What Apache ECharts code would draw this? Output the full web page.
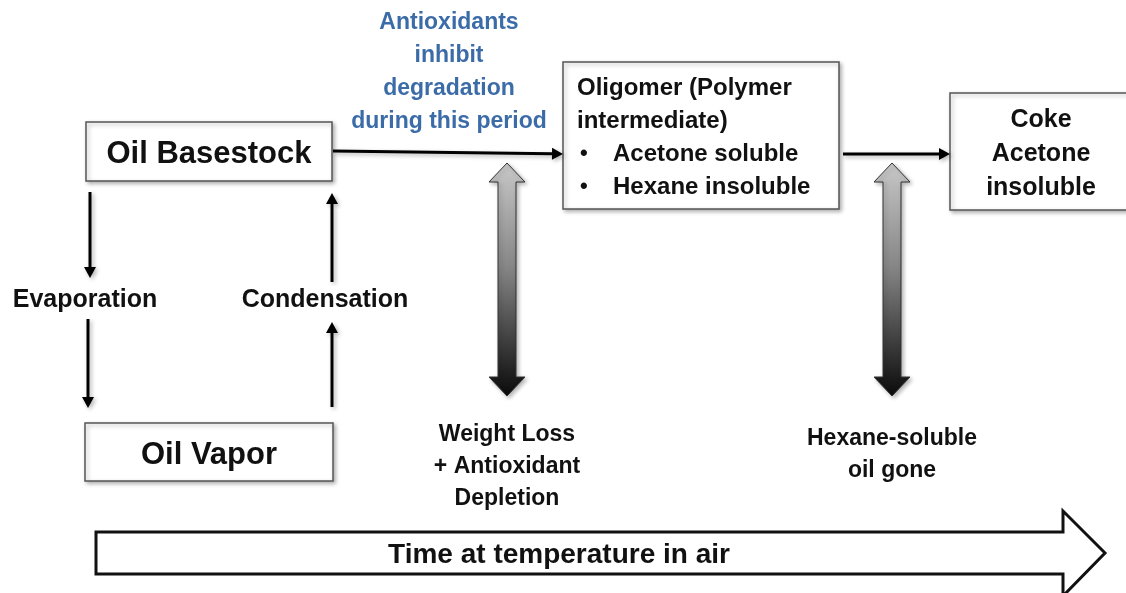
<!DOCTYPE html>
<html><head><meta charset="utf-8">
<script src="https://cdn.jsdelivr.net/npm/echarts@6/dist/echarts.min.js"></script>
<style>html,body{margin:0;padding:0;background:#fff}#c{width:1126px;height:593px}</style>
</head><body><div id="c"></div>
<script>
// ---- content (text) ----
const basestockLabel = ['Oil Basestock'];
const vaporLabel = ['Oil Vapor'];
const phaseLabels = ['Evaporation', 'Condensation'];
const inhibitLines = ['Antioxidants', 'inhibit', 'degradation', 'during this period'];
const oligomerLines = ['Oligomer (Polymer', 'intermediate)'];
const oligomerBullets = ['Acetone soluble', 'Hexane insoluble'];
const cokeLines = ['Coke', 'Acetone', 'insoluble'];
const weightLossLines = ['Weight Loss', '+ Antioxidant', 'Depletion'];
const hexaneGoneLines = ['Hexane-soluble', 'oil gone'];
const timeLabel = ['Time at temperature in air'];

const FONT = '"Liberation Sans", Arial, sans-serif';
const chart = echarts.init(document.getElementById('c'), null, {renderer: 'canvas'});
const g = [];
const shadow = {shadowBlur: 4, shadowOffsetX: 2, shadowOffsetY: 2, shadowColor: 'rgba(0,0,0,0.3)'};
const DY = 2;

function box(x, y, w, h) {
  g.push({type: 'rect', shape: {x, y, width: w, height: h},
    style: Object.assign({fill: '#fff', stroke: '#555', lineWidth: 1.5}, shadow)});
}
function text(s, x, y, size, opts) {
  g.push({type: 'text', x, y: y + DY, style: Object.assign({text: s, fill: '#111',
    font: 'bold ' + size + 'px ' + FONT, textAlign: 'center', textVerticalAlign: 'middle'}, opts || {})});
}
function arrow(x1, y1, x2, y2) {
  const dx = x2 - x1, dy = y2 - y1, L = Math.hypot(dx, dy), ux = dx / L, uy = dy / L;
  const hl = 11, hw = 6;
  const bx = x2 - ux * hl, by = y2 - uy * hl;
  g.push({type: 'line', shape: {x1, y1, x2: bx, y2: by},
    style: Object.assign({stroke: '#000', lineWidth: 3}, shadow)});
  g.push({type: 'polygon', shape: {points: [[x2, y2], [bx - uy * hw, by + ux * hw], [bx + uy * hw, by - ux * hw]]},
    style: Object.assign({fill: '#000'}, shadow)});
}
function dblArrow(cx, top, bot) {
  const sw = 9, hw = 18, hh = 19;
  g.push({type: 'polygon', shape: {points: [
    [cx, top], [cx + hw, top + hh], [cx + sw, top + hh], [cx + sw, bot - hh], [cx + hw, bot - hh],
    [cx, bot], [cx - hw, bot - hh], [cx - sw, bot - hh], [cx - sw, top + hh], [cx - hw, top + hh]]},
    style: Object.assign({
      fill: new echarts.graphic.LinearGradient(0, 0, 0, 1, [
        {offset: 0, color: '#c8c8c8'}, {offset: 0.45, color: '#858585'}, {offset: 1, color: '#0a0a0a'}]),
      stroke: '#333', lineWidth: 1}, shadow)});
}

// boxes
box(86, 122, 246, 59);
text(basestockLabel[0], 209, 152, 31);
box(85, 423, 248, 58);
text(vaporLabel[0], 209, 453, 31);
box(563, 62, 276, 147);
oligomerLines.forEach((s, i) => text(s, 577, 86 + i * 33, 24, {textAlign: 'left'}));
oligomerBullets.forEach((s, i) => {
  text('\u2022', 580, 152 + i * 33, 22, {textAlign: 'left'});
  text(s, 613, 152 + i * 33, 24, {textAlign: 'left'});
});
box(950, 93, 190, 117);
cokeLines.forEach((s, i) => text(s, 1041, 118 + i * 34, 25));

// arrows
arrow(333, 151, 563, 154);
arrow(843, 154, 950, 154);
arrow(90, 192, 90, 278);
arrow(88, 319, 88, 408);
arrow(332, 282, 332, 193);
arrow(332, 407, 332, 322);

// texts
text(phaseLabels[0], 85, 298, 25);
text(phaseLabels[1], 325, 298, 25);
inhibitLines.forEach((s, i) => text(s, 449, 21 + i * 33, 23, {fill: '#3c6ca8'}));
weightLossLines.forEach((s, i) => text(s, 507, 433 + i * 32, 23));
hexaneGoneLines.forEach((s, i) => text(s, 892, 437 + i * 32, 23));

// gradient double arrows
dblArrow(507, 163, 396);
dblArrow(892, 163, 396);

// time arrow
g.push({type: 'polygon', shape: {points: [[96, 532], [1063, 532], [1063, 511], [1105, 553], [1063, 596], [1063, 574], [96, 574]]},
  style: {fill: '#fff', stroke: '#111', lineWidth: 3}});
text(timeLabel[0], 559, 553, 28);

chart.setOption({animation: false, graphic: {elements: g}});
</script></body></html>
